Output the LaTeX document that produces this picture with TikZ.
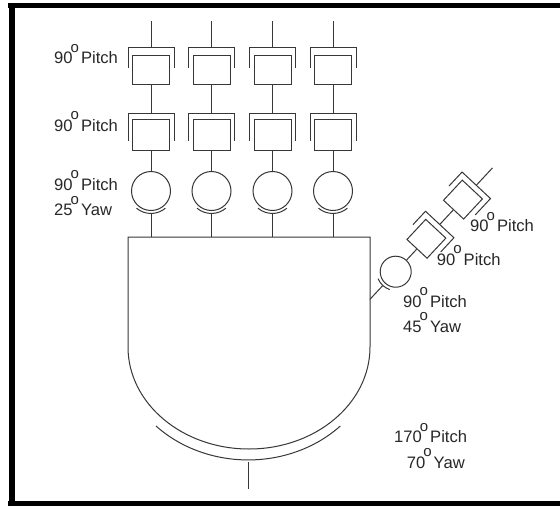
\documentclass[tikz,border=0pt]{standalone}
\usepackage{fontspec}
\setmainfont{Liberation Sans}
\usetikzlibrary{positioning}
\definecolor{inkline}{RGB}{55,55,55}
\definecolor{inktext}{RGB}{40,40,40}
\newcommand{\dg}{\kern-2pt\raisebox{11.5pt}{\fontsize{15}{15}\selectfont o}\kern2pt}
\tikzset{
  link/.style={draw=inkline, line width=1pt},
  joint/.style={rectangle, link, inner sep=0pt, minimum width=37pt, minimum height=29pt},
  midjoint/.style={joint, minimum height=31pt},
  ball/.style={circle, link, inner sep=0pt, minimum size=39pt},
  thumbjoint/.style={joint, minimum width=27.5pt, minimum height=27.5pt},
  thumbball/.style={ball, minimum size=31pt},
  angle/.style={anchor=base west, inner sep=0pt, text=inktext, font=\fontsize{16.6}{18}\selectfont},
}
\begin{document}
\begin{tikzpicture}[x=1pt, y=-1pt]
  \useasboundingbox (0,0) rectangle (560,506);
  \fill[white] (0,0) rectangle (560,506);
  \fill[black] (8,3) rectangle (560,8);
  \fill[black] (8,501) rectangle (560,506);
  \fill[black] (9,3) rectangle (15,506);

  % palm
  \coordinate (palm) at (128,237);
  \draw[link] (128,347) -- (palm) -- (370,237) -- (370,347)
    arc[start angle=0, end angle=-180, x radius=121pt, y radius=102pt];
  \draw[link] (156,426) arc[start angle=224.4, end angle=315.6, x radius=129pt, y radius=113pt];
  \coordinate (wrist) at (248,462);
  \coordinate (arm) at (248,489);
  \draw[link] (wrist) -- (arm);

  % fingers
  \foreach \c/\x in {1/151, 2/211.5, 3/272.5, 4/333}{
    \coordinate (tip\c) at (\x,21);
    \node[joint] (top\c) at (\x,69.5) {};
    \node[midjoint, below=34pt of top\c] (mid\c) {};
    \node[ball, below=20.5pt of mid\c] (ball\c) {};
    \draw[link] (tip\c) -- ([yshift=7pt]top\c.north);
    \draw[link] ([shift={(-4,13)}]top\c.north west) -- ([shift={(-4,-7)}]top\c.north west)
      -- ([shift={(4,-7)}]top\c.north east) -- ([shift={(4,13)}]top\c.north east);
    \draw[link] (top\c) -- ([yshift=5pt]mid\c.north);
    \draw[link] ([shift={(-4,22)}]mid\c.north west) -- ([shift={(-4,-5)}]mid\c.north west)
      -- ([shift={(4,-5)}]mid\c.north east) -- ([shift={(4,22)}]mid\c.north east);
    \draw[link] (mid\c) -- (ball\c);
    \draw[link] ([shift={(-14.5,17.2)}]ball\c.center) arc[start angle=230, end angle=310, radius=22.5pt];
    \draw[link] ([yshift=-22.5pt]ball\c.center) -- (ball\c |- palm);
  }

  % thumb
  \begin{scope}[shift={(395.7,271.7)}, rotate=-43, transform shape]
    \node[thumbball] (tball) at (0,0) {};
    \node[thumbjoint] (tmid) at (0,-45) {};
    \node[thumbjoint] (ttop) at (0,-98.6) {};
    \coordinate (ttip) at (0,-142);
    \coordinate (tbase) at (0,38);
    \draw[link] (ttip) -- ([shift={(0,-5.3)}]ttop.north);
    \draw[link] ([shift={(-5.2,14)}]ttop.north west) -- ([shift={(-5.2,-5.3)}]ttop.north west)
      -- ([shift={(5.2,-5.3)}]ttop.north east) -- ([shift={(5.2,17)}]ttop.north east);
    \draw[link] (ttop) -- ([shift={(0,-5.3)}]tmid.north);
    \draw[link] ([shift={(-5.2,13)}]tmid.north west) -- ([shift={(-5.2,-5.3)}]tmid.north west)
      -- ([shift={(5.2,-5.3)}]tmid.north east) -- ([shift={(5.2,14)}]tmid.north east);
    \draw[link] (tmid) -- (tball);
    \draw[link] ([shift={(-8.2,17.1)}]tball.center) arc[start angle=245, end angle=295, radius=19pt];
    \draw[link] ([shift={(0,19)}]tball.center) -- (tbase);
  \end{scope}

  % angle limits
  \node[angle] (lbltop) at (54,63.5) {90\dg Pitch};
  \node[angle] (lblmid) at (54,131) {90\dg Pitch};
  \node[angle] (lblball) at (54,190) {90\dg Pitch};
  \node[angle] (lblyaw) at (54,215.7) {25\dg Yaw};
  \node[angle] (lblttop) at (470,231.7) {90\dg Pitch};
  \node[angle] (lbltmid) at (436.7,265) {90\dg Pitch};
  \node[angle] (lbltball) at (403,307) {90\dg Pitch};
  \node[angle] (lbltyaw) at (403,332) {45\dg Yaw};
  \node[angle] (lblwrist) at (394,442.7) {170\dg Pitch};
  \node[angle] (lblwyaw) at (406.7,468) {70\dg Yaw};
\end{tikzpicture}
\end{document}
